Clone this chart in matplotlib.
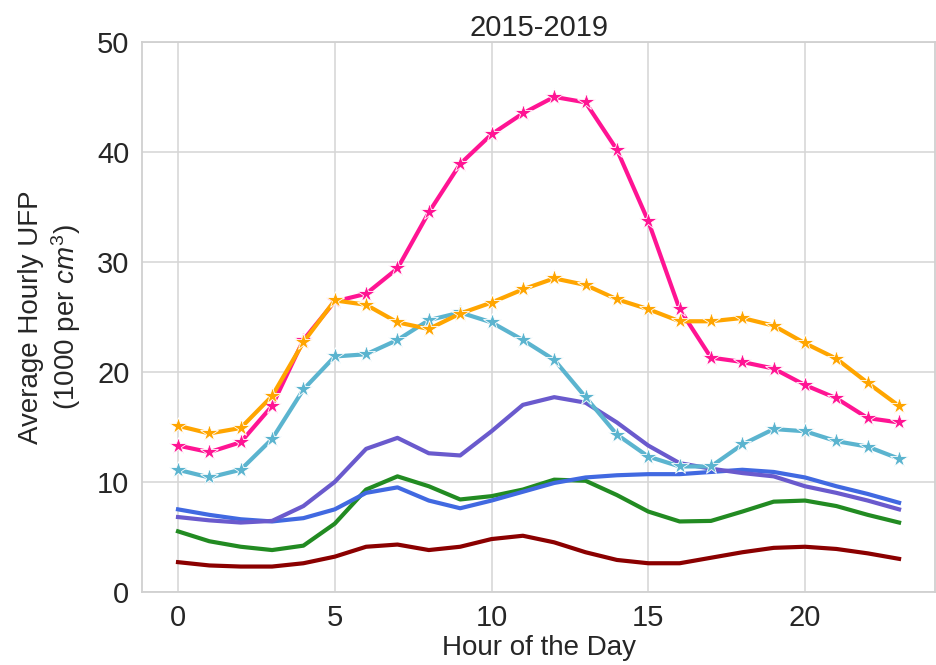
import matplotlib
matplotlib.use("Agg")
import matplotlib.pyplot as plt

hours = list(range(24))

pink = [13.3, 12.7, 13.6, 16.9, 22.9, 26.4, 27.1, 29.4, 34.5, 38.9, 41.6, 43.5,
        45.0, 44.5, 40.2, 33.7, 25.7, 21.3, 20.9, 20.3, 18.8, 17.6, 15.8, 15.4]
orange = [15.1, 14.4, 14.9, 17.8, 22.7, 26.5, 26.1, 24.5, 23.9, 25.3, 26.3, 27.5,
          28.5, 27.9, 26.6, 25.7, 24.6, 24.6, 24.9, 24.2, 22.6, 21.2, 19.0, 16.9]
cyan = [11.1, 10.4, 11.1, 13.9, 18.4, 21.4, 21.6, 22.9, 24.7, 25.4, 24.5, 22.9,
        21.1, 17.7, 14.3, 12.3, 11.4, 11.4, 13.4, 14.8, 14.6, 13.7, 13.2, 12.1]
purple = [6.8, 6.5, 6.3, 6.45, 7.8, 10.0, 13.0, 14.0, 12.6, 12.4, 14.6, 17.0,
          17.7, 17.2, 15.4, 13.3, 11.7, 11.2, 10.8, 10.5, 9.6, 9.0, 8.3, 7.5]
blue = [7.5, 7.0, 6.6, 6.4, 6.7, 7.5, 9.0, 9.5, 8.3, 7.6, 8.3, 9.1,
        9.9, 10.4, 10.6, 10.7, 10.7, 10.9, 11.1, 10.9, 10.4, 9.6, 8.9, 8.1]
green = [5.5, 4.6, 4.1, 3.8, 4.2, 6.2, 9.3, 10.5, 9.6, 8.4, 8.7, 9.3,
         10.2, 10.1, 8.8, 7.3, 6.4, 6.45, 7.3, 8.2, 8.3, 7.8, 7.0, 6.3]
darkred = [2.7, 2.4, 2.3, 2.3, 2.6, 3.2, 4.1, 4.3, 3.8, 4.1, 4.8, 5.1,
           4.5, 3.6, 2.9, 2.6, 2.6, 3.1, 3.6, 4.0, 4.1, 3.9, 3.5, 3.0]

plt.rcParams["font.family"] = ["Liberation Sans", "DejaVu Sans"]
plt.rcParams["text.color"] = "#262626"
plt.rcParams["axes.labelcolor"] = "#262626"
plt.rcParams["xtick.color"] = "#262626"
plt.rcParams["ytick.color"] = "#262626"
plt.rcParams["mathtext.fontset"] = "custom"
plt.rcParams["mathtext.it"] = "Liberation Sans:italic"
plt.rcParams["mathtext.rm"] = "Liberation Sans"

fig = plt.figure(figsize=(9.37, 6.65), dpi=100)
ax = fig.add_axes([0.1515, 0.110, 0.8465, 0.827])

lw = 3.0
ax.plot(hours, darkred, color="#8b0000", lw=lw)
ax.plot(hours, green, color="#228b22", lw=lw)
ax.plot(hours, blue, color="#4169e1", lw=lw)
ax.plot(hours, purple, color="#6a5acd", lw=lw)
star = dict(marker="*", markersize=13, markeredgecolor="white", markeredgewidth=0.6, lw=lw)
ax.plot(hours, cyan, color="#5bb4cf", **star)
ax.plot(hours, pink, color="#ff1493", **star)
ax.plot(hours, orange, color="#ffa500", **star)

ax.set_ylim(0, 50)
ax.set_xticks([0, 5, 10, 15, 20])
ax.set_yticks([0, 10, 20, 30, 40, 50])
ax.grid(True, color="#d5d5d5", lw=1.1)
ax.set_axisbelow(True)
for s in ax.spines.values():
    s.set_color("#d0d0d0")
    s.set_linewidth(1.3)
ax.tick_params(length=0, labelsize=21, pad=9)

ax.set_title("2015-2019", fontsize=21, pad=4)
ax.set_xlabel("Hour of the Day", fontsize=20, labelpad=2)
ax.set_ylabel("Average Hourly UFP\n(1000 per $cm^3$)", fontsize=20, labelpad=10)

fig.savefig("out.png", dpi=100)
